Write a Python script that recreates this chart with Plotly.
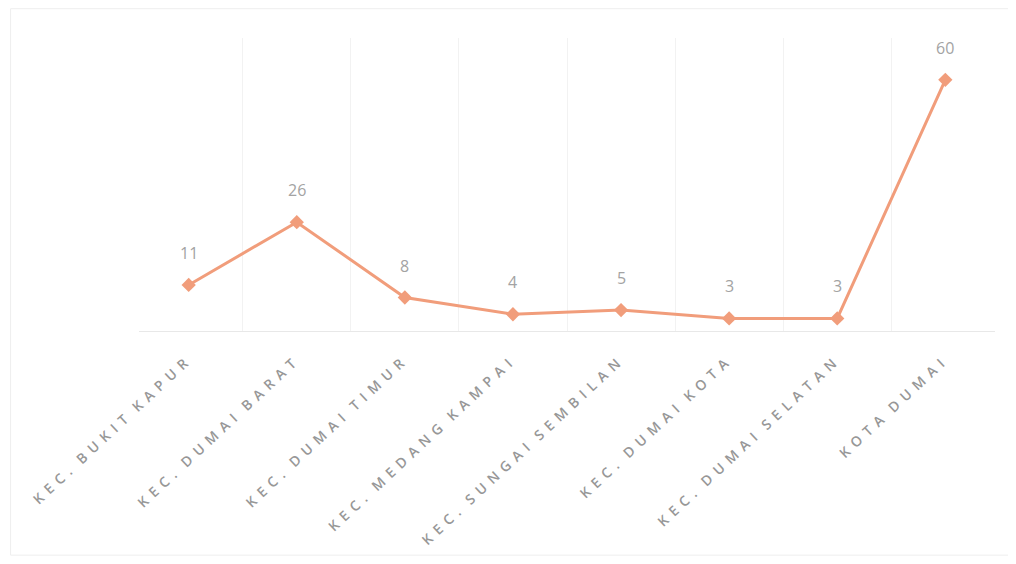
import plotly.graph_objects as go

kecamatan = [
    "KEC. BUKIT KAPUR",
    "KEC. DUMAI BARAT",
    "KEC. DUMAI TIMUR",
    "KEC. MEDANG KAMPAI",
    "KEC. SUNGAI SEMBILAN",
    "KEC. DUMAI KOTA",
    "KEC. DUMAI SELATAN",
    "KOTA DUMAI",
]
jumlah = [11, 26, 8, 4, 5, 3, 3, 60]

line_color = "#F19D7B"

fig = go.Figure(
    data=[
        go.Scatter(
            x=kecamatan,
            y=jumlah,
            mode="lines+markers",
            line=dict(color=line_color, width=3),
            marker=dict(symbol="diamond", size=11, color=line_color),
            showlegend=False,
        )
    ]
)

# label angka di atas titik
for k, v in zip(kecamatan, jumlah):
    fig.add_annotation(
        x=k, y=v, text=str(v), showarrow=False, yshift=32,
        font=dict(family="Open Sans", size=16, color="#a3a3a3"),
    )

fig.update_layout(
    width=1016,
    height=564,
    plot_bgcolor="white",
    paper_bgcolor="white",
    margin=dict(l=131, r=29, t=30, b=241),
    font=dict(family="Open Sans", color="#8a8a8a"),
)

fig.update_xaxes(
    tickson="boundaries",
    showgrid=True,
    gridcolor="#f2f2f2",
    gridwidth=1,
    showline=True,
    linecolor="#e8e8e8",
    linewidth=1,
    ticks="",
    tickangle=-43,
    ticklabelstandoff=14,
    tickfont=dict(family="Open Sans", size=14, color="#979797"),
    automargin=False,
)

fig.update_yaxes(
    range=[0, 70],
    showgrid=False,
    showticklabels=False,
    zeroline=False,
)

# bingkai luar grafik
fig.add_shape(
    type="rect", xref="paper", yref="paper",
    x0=-0.15, x1=1.02, y0=-0.765, y1=1.1,
    line=dict(color="#eeeeee", width=1),
)

# jarak huruf lebar seperti di Excel
post = """
document.querySelectorAll('.xtick text').forEach(function(t){
  t.style.letterSpacing = '6px';
  t.style.wordSpacing = '-4px';
  t.style.fontWeight = '600';
});
"""

fig.write_html("out.html", post_script=post)
